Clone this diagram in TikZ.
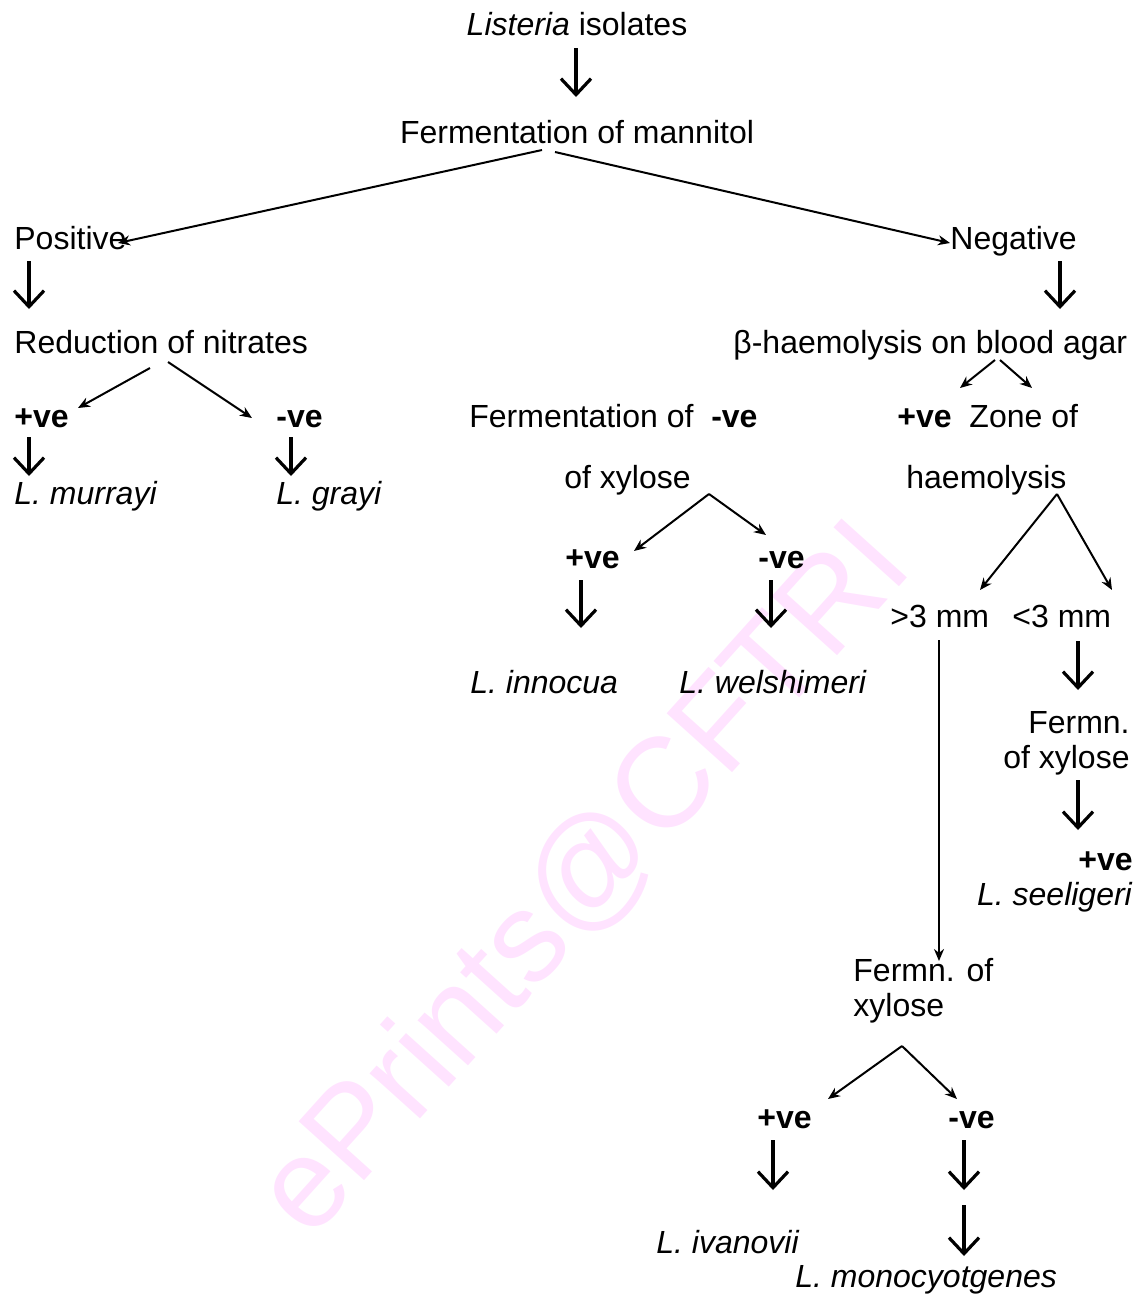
\documentclass[tikz,border=0pt]{standalone}
\usepackage{fontspec}
\setmainfont{Liberation Sans}
\usetikzlibrary{arrows.meta}
\definecolor{wmark}{HTML}{FFE3FF}

\begin{document}
\begin{tikzpicture}[x=0.5pt, y=-0.5pt, every node/.style={font=\fontsize{16}{17.5}\selectfont, inner sep=0pt},
  br/.style={-{Stealth[length=6pt,width=5pt]}, line width=1pt},
  dn/.style={-{Straight Barb[length=8pt,width=15pt]}, line width=1.6pt}]
\useasboundingbox (0,0) rectangle (1146,1302);
% watermark
\node[text=wmark, rotate=48, font=\fontsize{64}{70}\selectfont] (wm) at (585,880) {ePrints@CFTRI};

\node[anchor=base] (lis) at (577,35) {\textit{Listeria} isolates};
\node[anchor=base] (ferm) at (577,143) {Fermentation of mannitol};
\node[anchor=base west] (pos) at (14,249) {Positive};
\node[anchor=base west] (neg) at (950,249) {Negative};
\node[anchor=base west] (red) at (14,353) {Reduction of nitrates};
\node[anchor=base west] (beta) at (733,353) {β-haemolysis on blood agar};
\node[anchor=base west] (redp) at (14,427) {\textbf{+ve}};
\node[anchor=base west] (redn) at (276,427) {\textbf{-ve}};
\node[anchor=base west] (fxyl) at (469,427) {Fermentation of\ \ \textbf{-ve}};
\node[anchor=base west] (zone) at (897,427) {\textbf{+ve}\ \ Zone of};
\node[anchor=base west] (murr) at (14,504) {\textit{L. murrayi}};
\node[anchor=base west] (gray) at (276,504) {\textit{L. grayi}};
\node[anchor=base west] (oxyl) at (564,488) {of xylose};
\node[anchor=base west] (haem) at (906,488) {haemolysis};
\node[anchor=base west] (xp) at (565,568) {\textbf{+ve}};
\node[anchor=base west] (xn) at (758,568) {\textbf{-ve}};
\node[anchor=base west] (inno) at (470,693) {\textit{L. innocua}};
\node[anchor=base west] (wels) at (679,693) {\textit{L. welshimeri}};
\node[anchor=base west] (gt) at (890,627) {>3 mm};
\node[anchor=base west] (lt) at (1012,627) {<3 mm};
\node[anchor=base east, align=right] (fx2) at (1130,768) {Fermn.\\of xylose};
\node[anchor=base east, align=right] (seel) at (1133,905) {\textbf{+ve}\\\textit{L. seeligeri}};
\node[anchor=base west, align=left] (fx3) at (853,1016) {Fermn. of\\xylose};
\node[anchor=base west] (ivp) at (757,1128) {\textbf{+ve}};
\node[anchor=base west] (ivn) at (948,1128) {\textbf{-ve}};
\node[anchor=base west] (ivan) at (656,1253) {\textit{L. ivanovii}};
\node[anchor=base west] (mono) at (795,1287) {\textit{L. monocyotgenes}};
\coordinate (gapA) at (964,1190);
\coordinate (gapB) at (964,1205);

% thin branch arrows
\draw[br] ([shift={(-35,7)}]ferm.base) -- ([shift={(104,-6)}]pos.base west);
\draw[br] ([shift={(-22,9)}]ferm.base) -- ([shift={(0,-6)}]neg.base west);
\draw[br] ([shift={(136,15)}]red.base west) -- ([shift={(64,-19)}]redp.base west);
\draw[br] ([shift={(154,9)}]red.base west) -- ([shift={(-24,-9)}]redn.base west);
\draw[br] ([shift={(262,7)}]beta.base west) -- ([shift={(63,-39)}]zone.base west);
\draw[br] ([shift={(267,7)}]beta.base west) -- ([shift={(135,-39)}]zone.base west);
\draw[br] ([shift={(145,6)}]oxyl.base west) -- ([shift={(69,-17)}]xp.base west);
\draw[br] ([shift={(145,6)}]oxyl.base west) -- ([shift={(8,-33)}]xn.base west);
\draw[br] ([shift={(151,6)}]haem.base west) -- ([shift={(90,-37)}]gt.base west);
\draw[br] ([shift={(151,6)}]haem.base west) -- ([shift={(100,-37)}]lt.base west);
\draw[br] ([shift={(49,13)}]gt.base west) -- ([shift={(86,-55)}]fx3.base west);
\draw[br] ([shift={(49,30)}]fx3.base west) -- ([shift={(71,-29)}]ivp.base west);
\draw[br] ([shift={(49,30)}]fx3.base west) -- ([shift={(9,-29)}]ivn.base west);

% thick down arrows
\draw[dn] ([shift={(-1,13)}]lis.base) -- ([shift={(-1,-46)}]ferm.base);
\draw[dn] ([shift={(15,12)}]pos.base west) -- ([shift={(15,-44)}]red.base west);
\draw[dn] ([shift={(110,12)}]neg.base west) -- ([shift={(327,-44)}]beta.base west);
\draw[dn] ([shift={(15,10)}]redp.base west) -- ([shift={(15,-28)}]murr.base west);
\draw[dn] ([shift={(15,10)}]redn.base west) -- ([shift={(15,-28)}]gray.base west);
\draw[dn] ([shift={(16,12)}]xp.base west) -- ([shift={(111,-65)}]inno.base west);
\draw[dn] ([shift={(13,12)}]xn.base west) -- ([shift={(92,-65)}]wels.base west);
\draw[dn] ([shift={(66,14)}]lt.base west) -- ([shift={(-52,-78)}]fx2.base east);
\draw[dn] ([shift={(-52,12)}]fx2.base east) -- ([shift={(-55,-75)}]seel.base east);
\draw[dn] ([shift={(16,12)}]ivp.base west) -- ([shift={(117,-63)}]ivan.base west);
\draw[dn] ([shift={(16,12)}]ivn.base west) -- (gapA);
\draw[dn] (gapB) -- ([shift={(169,-31)}]mono.base west);
\end{tikzpicture}
\end{document}
